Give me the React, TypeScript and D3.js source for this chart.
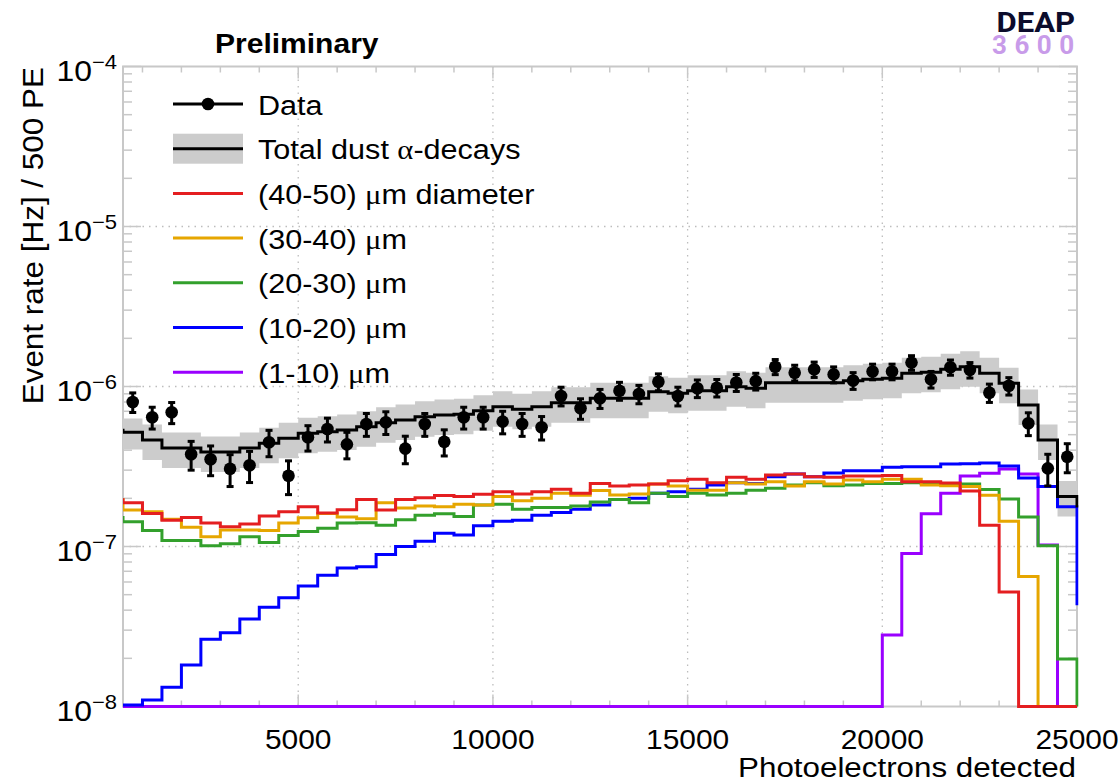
import React from "react";
import * as d3 from "d3";

// ---------- data ----------
const binLow = [
  500, 1000, 1500, 2000, 2500, 3000, 3500, 4000, 4500, 5000,
  5500, 6000, 6500, 7000, 7500, 8000, 8500, 9000, 9500, 10000,
  10500, 11000, 11500, 12000, 12500, 13000, 13500, 14000, 14500, 15000,
  15500, 16000, 16500, 17000, 17500, 18000, 18500, 19000, 19500, 20000,
  20500, 21000, 21500, 22000, 22500, 23000, 23500, 24000, 24500,
];
const BIN_WIDTH = 500;

const dataRate = [
  8.0e-7, 6.42e-7, 6.9e-7, 3.77e-7, 3.51e-7, 3.06e-7, 3.22e-7, 4.48e-7, 2.77e-7, 4.82e-7,
  5.42e-7, 4.35e-7, 5.83e-7, 5.98e-7, 4.09e-7, 5.83e-7, 4.52e-7, 6.42e-7, 6.42e-7, 6.03e-7,
  5.83e-7, 5.56e-7, 8.73e-7, 7.31e-7, 8.44e-7, 9.41e-7, 8.98e-7, 1.07e-6, 8.73e-7, 9.75e-7,
  9.83e-7, 1.06e-6, 1.08e-6, 1.33e-6, 1.22e-6, 1.28e-6, 1.19e-6, 1.09e-6, 1.24e-6, 1.24e-6,
  1.41e-6, 1.11e-6, 1.32e-6, 1.27e-6, 9.15e-7, 1.01e-6, 5.89e-7, 3.08e-7, 3.64e-7,
];
const dataErr = [
  1.12e-7, 1.0e-7, 1.04e-7, 7.7e-8, 7.4e-8, 6.9e-8, 7.1e-8, 8.4e-8, 6.6e-8, 8.7e-8,
  9.2e-8, 8.2e-8, 9.5e-8, 9.7e-8, 8.0e-8, 9.5e-8, 8.4e-8, 1.0e-7, 1.0e-7, 9.7e-8,
  9.5e-8, 9.3e-8, 1.17e-7, 1.07e-7, 1.15e-7, 1.21e-7, 1.18e-7, 1.29e-7, 1.17e-7, 1.23e-7,
  1.23e-7, 1.29e-7, 1.3e-7, 1.44e-7, 1.38e-7, 1.41e-7, 1.36e-7, 1.31e-7, 1.39e-7, 1.39e-7,
  1.48e-7, 1.32e-7, 1.44e-7, 1.41e-7, 1.2e-7, 1.26e-7, 9.6e-8, 6.9e-8, 7.5e-8,
];
const totalDust = [
  5.17e-7, 4.63e-7, 4.13e-7, 4.13e-7, 3.9e-7, 3.9e-7, 4.13e-7, 4.42e-7, 4.75e-7, 5.1e-7,
  5.22e-7, 5.35e-7, 5.61e-7, 5.94e-7, 6.18e-7, 6.48e-7, 6.64e-7, 6.7e-7, 7.06e-7, 7.48e-7,
  7.2e-7, 7.48e-7, 7.92e-7, 7.92e-7, 8.44e-7, 8.44e-7, 8.44e-7, 9.28e-7, 9.07e-7, 9.41e-7,
  9.41e-7, 9.97e-7, 9.75e-7, 1.057e-6, 1.057e-6, 1.057e-6, 1.057e-6, 1.087e-6, 1.11e-6, 1.125e-6,
  1.21e-6, 1.227e-6, 1.28e-6, 1.33e-6, 1.21e-6, 1.047e-6, 7.66e-7, 4.63e-7, 2.05e-7,
];
const totalSysFrac = [
  0.22, 0.25, 0.25, 0.25, 0.25, 0.25, 0.25, 0.25, 0.25, 0.25,
  0.25, 0.25, 0.25, 0.25, 0.25, 0.25, 0.25, 0.25, 0.25, 0.25,
  0.25, 0.25, 0.25, 0.25, 0.25, 0.25, 0.25, 0.25, 0.25, 0.25,
  0.25, 0.25, 0.25, 0.25, 0.25, 0.25, 0.25, 0.25, 0.25, 0.25,
  0.25, 0.25, 0.25, 0.25, 0.25, 0.25, 0.25, 0.25, 0.25,
];
const dust40to50 = [
  1.88e-7, 1.61e-7, 1.46e-7, 1.52e-7, 1.4e-7, 1.33e-7, 1.38e-7, 1.55e-7, 1.65e-7, 1.77e-7,
  1.62e-7, 1.7e-7, 1.97e-7, 1.69e-7, 1.97e-7, 2.02e-7, 2.08e-7, 2.05e-7, 2.12e-7, 2.2e-7,
  2.13e-7, 2.2e-7, 2.28e-7, 2.15e-7, 2.48e-7, 2.39e-7, 2.42e-7, 2.46e-7, 2.58e-7, 2.63e-7,
  2.5e-7, 2.71e-7, 2.63e-7, 2.8e-7, 2.84e-7, 2.73e-7, 2.71e-7, 2.76e-7, 2.76e-7, 2.78e-7,
  2.54e-7, 2.54e-7, 2.49e-7, 2.22e-7, 1.36e-7, 5.2e-8, 0, 0, 0,
];
const dust30to40 = [
  1.69e-7, 1.65e-7, 1.48e-7, 1.32e-7, 1.15e-7, 1.27e-7, 1.27e-7, 1.26e-7, 1.4e-7, 1.51e-7,
  1.61e-7, 1.53e-7, 1.49e-7, 1.88e-7, 1.74e-7, 1.79e-7, 1.77e-7, 1.84e-7, 1.82e-7, 2.05e-7,
  1.93e-7, 2.0e-7, 2.15e-7, 2.09e-7, 2.24e-7, 2.1e-7, 2.13e-7, 2.46e-7, 2.39e-7, 2.25e-7,
  2.25e-7, 2.5e-7, 2.46e-7, 2.54e-7, 2.39e-7, 2.54e-7, 2.46e-7, 2.6e-7, 2.54e-7, 2.63e-7,
  2.63e-7, 2.42e-7, 2.4e-7, 2.37e-7, 2.09e-7, 1.44e-7, 6.5e-8, 0, 0,
];
const dust20to30 = [
  1.43e-7, 1.26e-7, 1.09e-7, 1.09e-7, 1.01e-7, 1.04e-7, 1.15e-7, 1.06e-7, 1.17e-7, 1.24e-7,
  1.3e-7, 1.4e-7, 1.41e-7, 1.36e-7, 1.47e-7, 1.57e-7, 1.6e-7, 1.54e-7, 1.82e-7, 1.84e-7,
  1.71e-7, 1.75e-7, 1.75e-7, 1.79e-7, 1.9e-7, 1.97e-7, 1.88e-7, 2.15e-7, 2.05e-7, 2.15e-7,
  2.1e-7, 2.15e-7, 2.25e-7, 2.31e-7, 2.42e-7, 2.5e-7, 2.4e-7, 2.42e-7, 2.48e-7, 2.48e-7,
  2.5e-7, 2.48e-7, 2.46e-7, 2.46e-7, 2.27e-7, 1.98e-7, 1.53e-7, 1.01e-7, 1.98e-8,
];
const dust10to20 = [
  1.02e-8, 1.1e-8, 1.32e-8, 1.82e-8, 2.63e-8, 2.89e-8, 3.52e-8, 4.17e-8, 4.79e-8, 5.67e-8,
  6.61e-8, 7.34e-8, 7.48e-8, 8.91e-8, 1.0e-7, 1.08e-7, 1.21e-7, 1.18e-7, 1.35e-7, 1.44e-7,
  1.46e-7, 1.57e-7, 1.63e-7, 1.71e-7, 1.82e-7, 1.97e-7, 2.0e-7, 2.15e-7, 2.2e-7, 2.28e-7,
  2.42e-7, 2.5e-7, 2.48e-7, 2.73e-7, 2.84e-7, 2.73e-7, 2.88e-7, 2.98e-7, 2.98e-7, 3.13e-7,
  3.15e-7, 3.15e-7, 3.28e-7, 3.29e-7, 3.33e-7, 3.19e-7, 2.68e-7, 2.37e-7, 1.77e-7,
];
const dust1to10 = [
  0, 0, 0, 0, 0, 0, 0, 0, 0, 0,
  0, 0, 0, 0, 0, 0, 0, 0, 0, 0,
  0, 0, 0, 0, 0, 0, 0, 0, 0, 0,
  0, 0, 0, 0, 0, 0, 0, 0, 0, 2.8e-8,
  9.04e-8, 1.6e-7, 2.15e-7, 2.76e-7, 2.87e-7, 3.05e-7, 2.84e-7, 1.02e-7, 0,
];
// contents of the neighbouring (out-of-range) bins, seen as the edge verticals
const underflowBin = { total: 5.45e-7, d40: 2.0e-7, d30: 2.0e-7, d20: 1.55e-7, d10: 1.0e-8, d1: 0 };
const overflowBin = { total: 1.75e-7, d40: 0, d30: 0, d20: 0, d10: 4.3e-8, d1: 0 };

const xLabelTicks = [5000, 10000, 15000, 20000, 25000];
const xGridTicks = [5000, 10000, 15000, 20000];
const yDecadeExponents = [-8, -7, -6, -5, -4];
const yGridExponents = [-7, -6, -5];
const yMinorMultipliers = [2, 3, 4, 5, 6, 7, 8, 9];

const legendLabels = [
  "Data",
  "Total dust α-decays",
  "(40-50) μm diameter",
  "(30-40) μm",
  "(20-30) μm",
  "(10-20) μm",
  "(1-10) μm",
];

// ---------- style ----------
const COLORS = {
  d40: "#e41e20",
  d30: "#e6a600",
  d20: "#33a02c",
  d10: "#0000ff",
  d1: "#9a00ff",
  band: "#cccccc",
  frame: "#c8c8c8",
  grid: "#bdbdbd",
};
const SANS = "'Liberation Sans', Arial, Helvetica, sans-serif";
const SERIF = "'Liberation Serif', 'Times New Roman', serif";
const SX = 1.1;

const P = { left: 123, right: 1077, top: 66.5, bottom: 706.5 };

function greekify(label: string) {
  const parts = label.split(/([μα])/);
  return parts.map((p, i) =>
    p === "μ" || p === "α" ? (
      <tspan key={i} fontFamily={SERIF}>
        {p}
      </tspan>
    ) : (
      <tspan key={i}>{p}</tspan>
    )
  );
}

export default function App() {
  const x = d3.scaleLinear().domain([binLow[0], binLow[binLow.length - 1] + BIN_WIDTH]).range([P.left, P.right]);
  const y = d3.scaleLog().domain([1e-8, 1e-4]).range([P.bottom, P.top]).clamp(true);
  const xEnd = binLow[binLow.length - 1] + BIN_WIDTH;

  const stepPath = (vals: number[], prev: number, next: number) => {
    const pts: [number, number][] = [[binLow[0], prev]];
    vals.forEach((v, i) => pts.push([binLow[i], v]));
    pts.push([xEnd, vals[vals.length - 1]]);
    pts.push([xEnd, next]);
    return d3
      .line<[number, number]>()
      .x((d) => x(d[0]))
      .y((d) => y(d[1]))
      .curve(d3.curveStepAfter)(pts) as string;
  };

  const bandPts: [number, number, number][] = totalDust.map((v, i) => [binLow[i], v * (1 - totalSysFrac[i]), v * (1 + totalSysFrac[i])]);
  bandPts.push([xEnd, bandPts[bandPts.length - 1][1], bandPts[bandPts.length - 1][2]]);
  const bandPath = d3
    .area<[number, number, number]>()
    .x((d) => x(d[0]))
    .y0((d) => y(d[1]))
    .y1((d) => y(d[2]))
    .curve(d3.curveStepAfter)(bandPts) as string;

  const components = [
    { key: "d1", vals: dust1to10, color: COLORS.d1 },
    { key: "d10", vals: dust10to20, color: COLORS.d10 },
    { key: "d20", vals: dust20to30, color: COLORS.d20 },
    { key: "d30", vals: dust30to40, color: COLORS.d30 },
    { key: "d40", vals: dust40to50, color: COLORS.d40 },
  ];

  const xMinor = d3.range(1000, xEnd, 1000).filter((v) => v % 5000 !== 0);

  const yMinorVals: number[] = [];
  yDecadeExponents.slice(0, -1).forEach((e) => yMinorMultipliers.forEach((m) => yMinorVals.push(m * Math.pow(10, e))));

  // legend layout
  const legX0 = 173, legX1 = 243, legText = 258, legY0 = 104, legDy = 44.7;
  const legendLines = [null, null, COLORS.d40, COLORS.d30, COLORS.d20, COLORS.d10, COLORS.d1];

  return (
    <svg width={1120} height={784} style={{ position: "absolute", left: 0, top: 0, background: "#fff" }} fontFamily={SANS}>
      <defs>
        <clipPath id="plotClip">
          <rect x={P.left} y={P.top} width={P.right - P.left + 1.5} height={P.bottom - P.top + 1.5} />
        </clipPath>
      </defs>
      <rect x={0} y={0} width={1120} height={784} fill="#fff" />

      {/* grid */}
      <g stroke={COLORS.grid} strokeWidth={1.3} strokeDasharray="1.5 5">
        {xGridTicks.map((t) => (
          <line key={"gx" + t} x1={x(t)} x2={x(t)} y1={P.top} y2={P.bottom} />
        ))}
        {yGridExponents.map((e) => (
          <line key={"gy" + e} x1={P.left} x2={P.right} y1={y(Math.pow(10, e))} y2={y(Math.pow(10, e))} />
        ))}
      </g>

      {/* frame */}
      <rect x={P.left} y={P.top} width={P.right - P.left} height={P.bottom - P.top} fill="none" stroke={COLORS.frame} strokeWidth={2} />

      {/* ticks */}
      <g stroke={COLORS.frame} strokeWidth={1.5}>
        {xLabelTicks.map((t) => (
          <g key={"xt" + t}>
            <line x1={x(t)} x2={x(t)} y1={P.bottom} y2={P.bottom - 12} />
            <line x1={x(t)} x2={x(t)} y1={P.top} y2={P.top + 12} />
          </g>
        ))}
        {xMinor.map((t) => (
          <g key={"xm" + t}>
            <line x1={x(t)} x2={x(t)} y1={P.bottom} y2={P.bottom - 6} />
            <line x1={x(t)} x2={x(t)} y1={P.top} y2={P.top + 6} />
          </g>
        ))}
        {yDecadeExponents.map((e) => (
          <g key={"yt" + e}>
            <line x1={P.left} x2={P.left + 18} y1={y(Math.pow(10, e))} y2={y(Math.pow(10, e))} />
            <line x1={P.right} x2={P.right - 18} y1={y(Math.pow(10, e))} y2={y(Math.pow(10, e))} />
          </g>
        ))}
        {yMinorVals.map((v, i) => (
          <g key={"ym" + i}>
            <line x1={P.left} x2={P.left + 9} y1={y(v)} y2={y(v)} />
            <line x1={P.right} x2={P.right - 9} y1={y(v)} y2={y(v)} />
          </g>
        ))}
      </g>

      <g clipPath="url(#plotClip)">
        {/* systematic band */}
        <path d={bandPath} fill={COLORS.band} stroke="none" />
        {/* components */}
        {components.map((c) => (
          <path
            key={c.key}
            d={stepPath(c.vals, (underflowBin as any)[c.key], (overflowBin as any)[c.key])}
            fill="none"
            stroke={c.color}
            strokeWidth={3}
          />
        ))}
        {/* total */}
        <path d={stepPath(totalDust, underflowBin.total, overflowBin.total)} fill="none" stroke="#000" strokeWidth={3} />
      </g>

      {/* data points */}
      <g>
        {dataRate.map((v, i) => {
          const cx = x(binLow[i] + BIN_WIDTH / 2);
          const yHi = y(v + dataErr[i]);
          const yLo = y(v - dataErr[i]);
          return (
            <g key={"d" + i}>
              <line x1={cx} x2={cx} y1={yHi} y2={yLo} stroke="#000" strokeWidth={3} />
              <line x1={cx - 3.5} x2={cx + 3.5} y1={yHi} y2={yHi} stroke="#000" strokeWidth={3} />
              <line x1={cx - 3.5} x2={cx + 3.5} y1={yLo} y2={yLo} stroke="#000" strokeWidth={3} />
              <circle cx={cx} cy={y(v)} r={6.3} fill="#000" />
            </g>
          );
        })}
      </g>

      {/* legend */}
      <g>
        {legendLabels.map((lab, i) => {
          const ly = legY0 + i * legDy;
          return (
            <g key={"leg" + i}>
              {i === 0 && (
                <>
                  <line x1={legX0} x2={legX1} y1={ly} y2={ly} stroke="#000" strokeWidth={3} />
                  <circle cx={(legX0 + legX1) / 2} cy={ly} r={6.3} fill="#000" />
                </>
              )}
              {i === 1 && (
                <>
                  <rect x={legX0} y={ly - 15} width={legX1 - legX0} height={30} fill={COLORS.band} />
                  <line x1={legX0} x2={legX1} y1={ly} y2={ly} stroke="#000" strokeWidth={3} />
                </>
              )}
              {i > 1 && <line x1={legX0} x2={legX1} y1={ly} y2={ly} stroke={legendLines[i] as string} strokeWidth={3} />}
              <text transform={`translate(${legText},${ly + 10.5}) scale(${SX},1)`} fontSize={27.8} fill="#000">
                {greekify(lab)}
              </text>
            </g>
          );
        })}
      </g>

      {/* axis labels */}
      {xLabelTicks.map((t) => (
        <text key={"xl" + t} transform={`translate(${x(t)},749) scale(1.05,1)`} fontSize={28.5} textAnchor="middle" fill="#000">
          {t}
        </text>
      ))}
      {yDecadeExponents.map((e) => (
        <text key={"yl" + e} transform={`translate(117,${y(Math.pow(10, e)) + 14}) scale(${SX},1)`} textAnchor="end" fill="#000">
          <tspan fontSize={29}>10</tspan>
          <tspan fontSize={20} dy={-12}>{"\u2212" + Math.abs(e)}</tspan>
        </text>
      ))}
      <text transform={`translate(1076,777) scale(${SX},1)`} fontSize={28.5} textAnchor="end" fill="#000">
        Photoelectrons detected
      </text>
      <text transform={`translate(43,67) rotate(-90) scale(${SX},1)`} fontSize={28.6} textAnchor="end" fill="#000">
        Event rate [Hz] / 500 PE
      </text>

      {/* header */}
      <text transform={`translate(215,53) scale(${SX},1)`} fontSize={27.3} fontWeight="bold" fill="#000">
        Preliminary
      </text>
      <text transform="translate(1075,32) scale(1.15,1)" fontSize={27} fontWeight="bold" textAnchor="end" fill="#0c0c2c" fontFamily="Roboto, 'Open Sans', sans-serif">
        DEAP
      </text>
      <text x={992} y={54} fontSize={26} fontWeight="bold" letterSpacing={7.5} fill="#c89be9" fontFamily="Roboto, 'Open Sans', sans-serif">
        3600
      </text>
    </svg>
  );
}
